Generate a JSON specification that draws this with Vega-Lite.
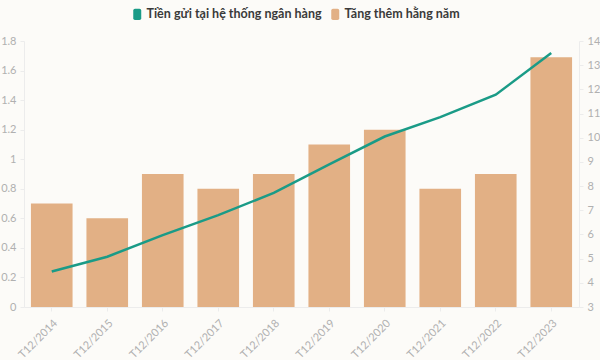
{
  "$schema": "https://vega.github.io/schema/vega-lite/v6.json",
  "width": 555,
  "height": 266,
  "padding": {"left": 0, "top": 8, "right": 0, "bottom": 0},
  "background": "#fcfbf8",
  "config": {
    "view": {"stroke": null},
    "font": "Lato",
    "axis": {
      "labelColor": "#b0b0b0",
      "labelFontSize": 11,
      "domainColor": "#ececec",
      "tickColor": "#ececec",
      "grid": false,
      "title": null
    }
  },
  "data": {
    "values": [
      {"thang": "T12/2014", "tien_gui": 4.47, "tang_them": 0.7},
      {"thang": "T12/2015", "tien_gui": 5.08, "tang_them": 0.6},
      {"thang": "T12/2016", "tien_gui": 5.97, "tang_them": 0.9},
      {"thang": "T12/2017", "tien_gui": 6.8, "tang_them": 0.8},
      {"thang": "T12/2018", "tien_gui": 7.72, "tang_them": 0.9},
      {"thang": "T12/2019", "tien_gui": 8.9, "tang_them": 1.1},
      {"thang": "T12/2020", "tien_gui": 10.05, "tang_them": 1.2},
      {"thang": "T12/2021", "tien_gui": 10.85, "tang_them": 0.8},
      {"thang": "T12/2022", "tien_gui": 11.78, "tang_them": 0.9},
      {"thang": "T12/2023", "tien_gui": 13.5, "tang_them": 1.69}
    ]
  },
  "encoding": {
    "x": {
      "field": "thang",
      "type": "nominal",
      "sort": null,
      "scale": {"paddingInner": 0.25, "paddingOuter": 0.125},
      "axis": {"labelAngle": -45, "labelPadding": 6, "tickSize": 4}
    }
  },
  "layer": [
    {
      "mark": {"type": "bar"},
      "encoding": {
        "y": {
          "field": "tang_them",
          "type": "quantitative",
          "scale": {"domain": [0, 1.8]},
          "axis": {"values": [0, 0.2, 0.4, 0.6, 0.8, 1, 1.2, 1.4, 1.6, 1.8], "format": "~g", "tickSize": 4, "labelPadding": 4}
        },
        "color": {
          "datum": "Tăng thêm hằng năm",
          "type": "nominal",
          "scale": {
            "domain": ["Tiền gửi tại hệ thống ngân hàng", "Tăng thêm hằng năm"],
            "range": ["#1a9b87", "#e2b085"]
          },
          "legend": {
            "orient": "none",
            "legendX": 107,
            "legendY": -33,
            "direction": "horizontal",
            "title": null,
            "labelFontSize": 12.5,
            "labelFontWeight": "bold",
            "labelColor": "#3a3a3a",
            "labelLimit": 400,
            "symbolType": "M-0.4,-1 H0.4 Q0.7,-1 0.7,-0.7 V0.7 Q0.7,1 0.4,1 H-0.4 Q-0.7,1 -0.7,0.7 V-0.7 Q-0.7,-1 -0.4,-1 Z",
            "symbolSize": 130,
            "symbolStrokeWidth": 0,
            "columnPadding": 7,
            "labelOffset": 3
          }
        }
      }
    },
    {
      "mark": {"type": "line", "strokeWidth": 2.5},
      "encoding": {
        "y": {
          "field": "tien_gui",
          "type": "quantitative",
          "scale": {"domain": [3, 14]},
          "axis": {"orient": "right", "values": [3, 4, 5, 6, 7, 8, 9, 10, 11, 12, 13, 14], "tickSize": 4, "labelPadding": 4}
        },
        "color": {"datum": "Tiền gửi tại hệ thống ngân hàng", "type": "nominal", "legend": null}
      }
    }
  ],
  "resolve": {"scale": {"y": "independent"}}
}
